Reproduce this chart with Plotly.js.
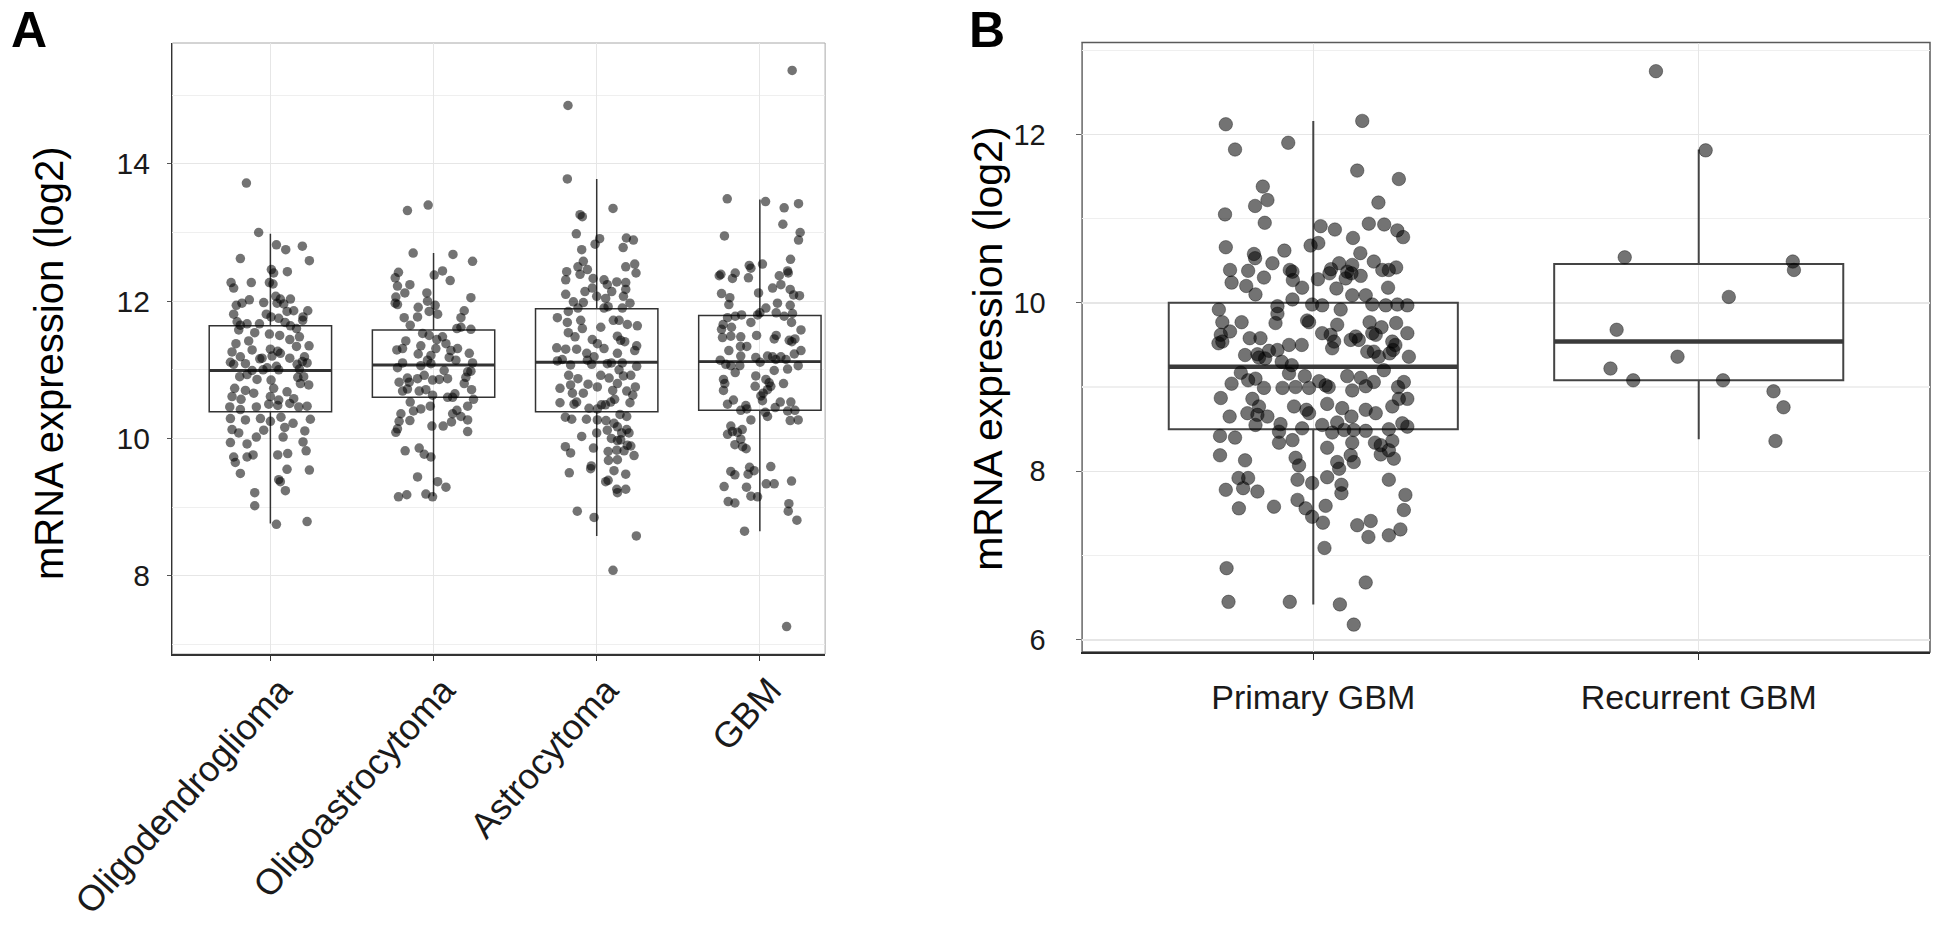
<!DOCTYPE html>
<html>
<head>
<meta charset="utf-8">
<script src="https://cdn.plot.ly/plotly-3.0.1.min.js"></script>
<style>html,body{margin:0;padding:0;background:#fff;}#chart{width:1936px;height:935px;}</style>
</head>
<body>
<div id="chart"></div>
<script>
// ---------- Panel A data ----------
const categoriesA = ['Oligodendroglioma', 'Oligoastrocytoma', 'Astrocytoma', 'GBM'];
const q1A = [10.39, 10.60, 10.39, 10.41];
const medianA = [10.99, 11.07, 11.11, 11.12];
const q3A = [11.64, 11.58, 11.89, 11.79];
const lowerA = [8.76, 9.16, 8.58, 8.65];
const upperA = [12.98, 12.70, 13.78, 13.48];

// each point: [expression value, horizontal jitter offset]
const oligodendrogliomaPts = [[13.72,-0.147],[13.00,-0.072],[12.82,0.037],[12.75,0.094],[12.80,0.196],[12.62,-0.184],[12.59,0.239],[12.46,0.006],[12.41,0.020],[12.43,0.104],[12.27,-0.241],[12.19,-0.225],[12.27,-0.117],[12.27,-0.006],[12.25,0.016],[12.07,0.033],[12.03,0.061],[12.03,0.123],[12.02,-0.129],[11.98,-0.041],[11.97,-0.174],[11.94,-0.209],[11.97,0.041],[11.96,0.082],[11.85,0.102],[11.86,0.143],[11.86,0.229],[11.81,-0.225],[11.81,-0.025],[11.77,0.004],[11.75,0.051],[11.77,0.200],[11.72,0.198],[11.70,-0.204],[11.65,-0.184],[11.67,-0.143],[11.67,-0.067],[11.69,0.090],[11.64,0.123],[11.60,0.160],[11.58,-0.194],[11.54,-0.096],[11.52,-0.006],[11.50,0.057],[11.44,0.119],[11.48,0.178],[11.38,-0.211],[11.42,-0.133],[11.35,0.237],[11.29,-0.112],[11.30,0.000],[11.27,0.045],[11.34,0.160],[11.26,-0.235],[11.19,-0.184],[11.17,-0.051],[11.20,0.010],[11.24,0.061],[11.17,0.119],[11.19,0.209],[11.11,-0.245],[11.08,-0.225],[11.09,-0.153],[11.16,-0.065],[11.03,-0.020],[11.05,0.037],[11.08,0.164],[11.12,0.196],[11.10,0.225],[11.01,0.178],[10.99,-0.112],[11.00,-0.045],[11.00,0.051],[10.90,-0.188],[10.93,-0.143],[10.86,-0.082],[10.85,0.004],[10.89,0.168],[10.90,0.204],[10.73,-0.219],[10.70,-0.153],[10.66,-0.102],[10.73,0.020],[10.68,0.102],[10.80,0.184],[10.78,0.235],[10.61,-0.235],[10.57,-0.180],[10.61,0.000],[10.56,0.051],[10.58,0.143],[10.46,-0.249],[10.42,-0.184],[10.46,-0.086],[10.50,-0.010],[10.48,0.045],[10.51,0.119],[10.46,0.174],[10.47,0.225],[10.29,-0.245],[10.27,-0.153],[10.29,-0.061],[10.25,0.000],[10.31,0.065],[10.28,0.245],[10.13,-0.235],[10.08,-0.194],[10.12,-0.041],[10.16,0.088],[10.22,0.139],[10.11,0.211],[9.94,-0.245],[9.92,-0.143],[10.02,-0.086],[10.02,0.078],[9.95,0.200],[9.73,-0.225],[9.73,-0.143],[9.76,-0.106],[9.76,0.045],[9.78,0.106],[9.82,0.219],[9.65,-0.215],[9.55,0.102],[9.54,0.239],[9.49,-0.184],[9.40,0.051],[9.37,0.061],[9.24,0.092],[9.21,-0.096],[9.02,-0.096],[8.75,0.037],[8.79,0.225]];

const oligoastrocytomaPts = [[13.32,-0.160],[13.40,-0.033],[12.70,-0.125],[12.68,0.119],[12.58,0.239],[12.42,-0.215],[12.34,-0.235],[12.38,0.004],[12.44,0.055],[12.30,0.102],[12.22,-0.221],[12.24,-0.145],[12.12,-0.176],[12.12,-0.041],[12.06,-0.231],[12.05,0.229],[11.97,-0.235],[11.95,-0.221],[11.91,-0.094],[12.00,-0.037],[11.94,0.010],[11.77,-0.098],[11.85,-0.027],[11.81,0.025],[11.76,-0.180],[11.86,0.188],[11.76,0.168],[11.65,-0.143],[11.60,0.143],[11.62,0.168],[11.59,0.229],[11.53,-0.067],[11.50,-0.027],[11.44,0.020],[11.48,0.055],[11.38,0.076],[11.42,-0.170],[11.29,-0.225],[11.31,-0.190],[11.35,-0.078],[11.31,0.014],[11.31,0.147],[11.28,0.106],[11.24,0.219],[11.23,-0.094],[11.21,-0.016],[11.14,-0.037],[11.18,0.096],[11.14,0.137],[11.10,-0.190],[11.03,-0.221],[11.06,-0.078],[11.09,-0.016],[10.99,0.065],[11.10,0.239],[10.98,0.229],[10.88,-0.160],[10.97,0.209],[10.89,0.198],[10.87,-0.098],[10.92,-0.057],[10.86,0.035],[10.87,0.086],[10.85,-0.006],[10.82,-0.211],[10.82,-0.149],[10.72,-0.160],[10.69,-0.190],[10.69,-0.088],[10.71,-0.047],[10.80,0.188],[10.71,0.233],[10.63,-0.006],[10.60,0.086],[10.60,0.117],[10.65,0.131],[10.57,0.245],[10.53,-0.143],[10.47,0.209],[10.43,-0.078],[10.47,-0.020],[10.40,-0.123],[10.41,0.143],[10.36,-0.200],[10.36,0.117],[10.32,0.168],[10.27,0.209],[10.25,-0.211],[10.26,-0.145],[10.14,-0.221],[10.09,-0.231],[10.18,-0.010],[10.18,0.059],[10.10,0.209],[10.24,0.110],[9.82,-0.174],[9.86,-0.088],[9.77,-0.057],[9.73,-0.016],[9.44,-0.098],[9.37,0.025],[9.29,0.076],[9.15,-0.215],[9.18,-0.164],[9.19,-0.047],[9.15,-0.006]];

const astrocytomaPts = [[14.85,-0.176],[13.78,-0.180],[13.35,0.100],[13.26,-0.102],[13.23,-0.088],[12.98,-0.125],[12.91,0.018],[12.83,-0.010],[12.92,0.182],[12.89,0.225],[12.78,0.162],[12.75,-0.092],[12.58,-0.082],[12.50,-0.115],[12.46,-0.057],[12.39,-0.102],[12.43,-0.184],[12.31,-0.190],[12.50,0.178],[12.54,0.233],[12.41,0.241],[12.33,-0.022],[12.14,-0.072],[12.31,0.045],[12.10,-0.190],[12.24,0.065],[12.28,0.123],[12.27,0.178],[12.14,0.092],[12.17,0.178],[12.19,-0.027],[12.07,0.000],[12.04,0.055],[11.99,-0.143],[11.90,-0.115],[11.98,-0.082],[11.92,0.070],[12.07,0.164],[11.97,0.204],[11.90,0.045],[11.90,0.157],[11.85,-0.174],[11.76,-0.241],[11.69,-0.180],[11.72,-0.098],[11.60,-0.088],[11.72,0.102],[11.72,0.137],[11.66,0.188],[11.64,0.249],[11.62,0.025],[11.54,-0.174],[11.48,-0.133],[11.49,0.127],[11.44,-0.027],[11.38,0.004],[11.41,0.172],[11.43,0.147],[11.32,-0.245],[11.30,-0.190],[11.30,-0.123],[11.24,-0.061],[11.31,0.045],[11.24,0.127],[11.35,0.245],[11.28,0.233],[11.14,-0.057],[11.19,-0.016],[11.15,-0.211],[11.07,-0.160],[11.08,-0.031],[11.09,0.065],[11.10,0.090],[11.10,0.157],[11.05,0.245],[11.13,-0.241],[10.92,-0.172],[10.87,-0.115],[10.92,0.025],[10.88,0.076],[11.00,0.137],[10.91,0.164],[10.92,0.209],[10.79,-0.053],[10.75,0.004],[10.80,0.127],[10.73,-0.225],[10.78,-0.160],[10.69,0.184],[10.70,0.098],[10.75,0.237],[10.66,-0.149],[10.66,-0.082],[10.63,0.221],[10.53,-0.123],[10.50,-0.139],[10.53,0.086],[10.57,0.110],[10.52,0.204],[10.52,-0.225],[10.49,0.029],[10.49,0.053],[10.44,-0.047],[10.43,0.004],[10.35,0.143],[10.32,0.184],[10.31,-0.192],[10.28,-0.153],[10.28,-0.063],[10.27,0.004],[10.26,0.057],[10.22,0.106],[10.13,0.184],[10.08,0.198],[10.08,0.153],[10.17,0.127],[10.03,-0.092],[10.08,0.000],[10.12,0.065],[10.00,0.090],[9.97,0.127],[9.90,0.188],[9.98,0.147],[9.88,-0.192],[9.79,-0.160],[9.86,-0.020],[9.81,0.070],[9.83,0.123],[9.75,0.229],[9.82,0.168],[9.89,0.209],[9.68,0.072],[9.69,0.127],[9.60,-0.033],[9.56,-0.037],[9.50,-0.168],[9.53,0.106],[9.48,0.178],[9.37,0.055],[9.39,0.070],[9.26,0.123],[9.26,0.178],[9.21,0.127],[8.94,-0.119],[8.85,-0.016],[8.58,0.243],[8.08,0.100]];

const gbmPts = [[15.36,0.198],[13.49,-0.200],[13.45,0.035],[13.36,0.149],[13.42,0.237],[13.12,0.141],[12.95,-0.217],[13.00,0.247],[12.89,0.237],[12.61,0.188],[12.52,-0.065],[12.48,-0.055],[12.54,0.016],[12.37,-0.249],[12.39,-0.239],[12.41,-0.151],[12.33,-0.168],[12.34,-0.070],[12.44,0.170],[12.37,0.119],[12.41,0.174],[12.11,-0.235],[12.12,-0.008],[12.19,0.078],[12.24,0.129],[12.17,0.186],[12.08,0.243],[12.09,0.207],[12.05,-0.184],[11.95,-0.190],[11.97,0.108],[11.94,0.186],[11.90,0.037],[11.80,-0.112],[11.78,-0.151],[11.80,-0.014],[11.83,0.000],[11.83,0.100],[11.78,0.149],[11.82,0.200],[11.76,-0.198],[11.69,0.194],[11.69,-0.055],[11.66,-0.225],[11.62,-0.174],[11.59,-0.235],[11.47,-0.229],[11.49,-0.178],[11.48,-0.117],[11.50,-0.020],[11.50,0.100],[11.58,0.252],[11.45,0.088],[11.43,0.180],[11.45,0.215],[11.41,0.196],[11.34,-0.119],[11.34,-0.080],[11.28,-0.190],[11.20,-0.117],[11.18,-0.025],[11.20,0.047],[11.19,0.078],[11.15,0.098],[11.19,0.129],[11.15,0.160],[11.23,0.211],[11.28,0.252],[11.14,-0.243],[11.08,-0.209],[11.06,-0.178],[11.06,-0.123],[11.11,0.002],[10.96,-0.151],[10.99,0.088],[11.01,0.170],[11.06,0.235],[10.86,-0.223],[10.80,-0.215],[10.91,-0.025],[10.86,0.037],[10.81,0.057],[10.80,0.145],[10.70,-0.223],[10.76,-0.029],[10.66,0.020],[10.71,0.047],[10.76,0.067],[10.62,0.006],[10.55,0.016],[10.50,-0.198],[10.56,-0.162],[10.48,-0.086],[10.43,-0.080],[10.41,-0.117],[10.27,-0.055],[10.38,0.033],[10.32,0.047],[10.45,0.094],[10.53,0.125],[10.53,0.190],[10.40,0.170],[10.41,0.215],[10.26,0.186],[10.27,0.235],[10.18,-0.178],[10.10,-0.168],[10.09,-0.137],[10.13,-0.108],[10.06,-0.198],[9.91,-0.153],[9.99,-0.117],[9.88,-0.106],[9.85,-0.084],[9.52,-0.178],[9.47,-0.153],[9.58,-0.063],[9.53,-0.035],[9.48,-0.072],[9.30,-0.219],[9.29,-0.082],[9.34,0.039],[9.34,0.088],[9.59,0.067],[9.38,0.194],[9.08,-0.194],[9.06,-0.153],[9.16,-0.055],[9.15,-0.014],[9.05,0.178],[8.94,0.174],[8.81,0.227],[8.65,-0.094],[7.26,0.164]];

// ---------- Panel B data ----------
const categoriesB = ['Primary GBM', 'Recurrent GBM'];
const q1B = [8.50, 9.08];
const medianB = [9.24, 9.54];
const q3B = [10.00, 10.46];
const lowerB = [6.42, 8.38];
const upperB = [12.16, 11.82];

const primaryGbmPts = [[12.12,-0.227],[12.16,0.127],[11.82,-0.203],[11.90,-0.065],[11.57,0.114],[11.47,0.222],[11.38,-0.131],[11.22,-0.119],[11.15,-0.151],[11.19,0.169],[11.05,-0.229],[10.95,-0.126],[10.91,0.019],[10.87,0.056],[10.94,0.144],[10.93,0.184],[10.86,0.218],[10.78,0.233],[10.77,0.103],[10.66,-0.227],[10.68,-0.007],[10.71,0.013],[10.62,-0.075],[10.58,-0.154],[10.53,-0.151],[10.59,0.122],[10.49,0.157],[10.47,0.067],[10.45,0.101],[10.47,-0.106],[10.39,-0.216],[10.38,-0.169],[10.39,-0.061],[10.37,-0.054],[10.40,0.046],[10.35,0.042],[10.37,0.088],[10.35,0.099],[10.39,0.179],[10.42,0.215],[10.39,0.196],[10.24,-0.212],[10.30,-0.128],[10.20,-0.174],[10.27,-0.053],[10.28,0.012],[10.29,0.084],[10.32,0.123],[10.18,-0.029],[10.17,0.060],[10.18,0.194],
[10.10,-0.150],[10.04,-0.054],[10.09,0.101],[10.09,0.136],[9.96,-0.093],[9.98,-0.003],[9.97,0.023],[9.92,0.071],[9.98,0.153],[9.97,0.188],[9.98,0.218],[9.97,0.244],[9.92,-0.245],[9.87,-0.093],[9.76,-0.098],[9.77,-0.236],[9.77,-0.186],[9.79,-0.016],[9.77,-0.011],[9.74,0.062],[9.77,0.146],[9.71,0.177],[9.76,0.215],[9.66,-0.216],[9.62,-0.240],[9.54,-0.236],[9.52,-0.246],[9.58,-0.165],[9.58,-0.137],[9.64,0.023],[9.62,0.045],[9.54,0.054],[9.60,0.110],[9.56,0.118],[9.56,0.097],[9.64,0.153],[9.62,0.162],[9.64,0.244],[9.54,0.205],[9.50,0.213],[9.50,-0.063],[9.50,-0.030],[9.44,-0.093],[9.43,-0.115],[9.38,-0.177],[9.39,-0.145],[9.35,-0.141],[9.34,-0.125],[9.46,0.049],[9.42,0.140],[9.42,0.157],[9.36,0.170],[9.40,0.198],[9.44,0.207],[9.36,0.248],[9.30,-0.082],[9.26,-0.056],[9.20,0.183],[9.17,-0.188],[9.08,-0.169],[9.04,-0.212],[9.10,-0.150],[8.99,-0.128],[9.16,-0.063],[9.13,-0.022],[9.07,0.015],[9.02,0.032],[9.00,0.040],[9.13,0.088],[9.11,0.123],[9.06,0.157],[9.01,0.136],[8.96,0.101],[8.99,-0.080],[9.00,-0.046],[8.99,-0.011],[9.06,0.235],[9.00,0.220],[8.87,-0.240],[8.86,-0.158],[8.86,0.222],[8.86,0.244],
[8.77,-0.141],[8.77,-0.050],[8.73,-0.018],[8.69,-0.011],[8.80,0.036],[8.75,0.075],[8.65,0.099],[8.73,0.136],[8.69,0.162],[8.77,0.205],[8.65,-0.217],[8.69,-0.171],[8.67,-0.145],[8.65,-0.119],[8.55,-0.150],[8.56,-0.085],[8.47,-0.089],[8.51,-0.029],[8.55,0.023],[8.58,0.062],[8.46,0.049],[8.49,0.080],[8.49,0.105],[8.48,0.136],[8.50,0.196],[8.57,0.231],[8.53,0.244],[8.42,-0.242],[8.40,-0.203],[8.34,-0.089],[8.37,-0.054],[8.28,0.036],[8.34,0.101],[8.34,0.160],[8.31,0.175],[8.25,0.196],[8.36,0.205],[8.19,-0.242],[8.13,-0.177],[8.16,-0.046],[8.07,-0.037],[8.11,0.062],[8.03,0.067],[8.19,0.097],[8.11,0.105],[8.20,0.175],[8.15,0.209],[7.92,-0.194],[7.92,-0.169],[7.90,-0.041],[7.86,-0.003],[7.93,0.036],[7.84,0.073],[7.90,0.196],[7.78,-0.227],[7.80,-0.182],[7.76,-0.145],[7.74,0.073],[7.72,0.239],[7.66,-0.041],[7.59,0.032],[7.58,-0.102],[7.56,-0.193],[7.56,-0.020],
[7.46,-0.003],[7.39,0.025],[7.36,0.114],[7.41,0.149],[7.22,0.143],[7.24,0.196],[7.31,0.226],[7.54,0.235],[7.09,0.029],[6.85,-0.225],[6.68,0.136],[6.45,-0.220],[6.45,-0.061],[6.42,0.069],[6.18,0.105]];

const recurrentGbmPts = [[12.75,-0.111],[11.81,0.018],[10.54,-0.192],[10.49,0.244],[10.39,0.247],[10.07,0.078],[9.68,-0.213],[9.36,-0.055],[9.22,-0.229],[9.08,-0.170],[9.08,0.063],[8.95,0.194],[8.76,0.220],[8.36,0.199]];

// ---------- build ----------
const FONT = 'Liberation Sans, Arial, Helvetica, sans-serif';
const BOXW = 0.75;

function medianSegments(meds) {
  const x = [], y = [];
  meds.forEach((m, i) => { x.push(i - BOXW / 2, i + BOXW / 2, null); y.push(m, m, null); });
  return {x, y};
}
function jitterTrace(groups, xa, ya, size, lineColor) {
  const x = [], y = [];
  groups.forEach((pts, i) => pts.forEach(p => { x.push(i + p[1]); y.push(p[0]); }));
  return {type: 'scatter', mode: 'markers', x, y, xaxis: xa, yaxis: ya, hoverinfo: 'skip', showlegend: false,
    marker: {size: size, color: 'rgba(0,0,0,0.55)', line: {width: lineColor ? 1 : 0, color: lineColor || 'rgba(0,0,0,0)'}}};
}

const idxA = categoriesA.map((c, i) => i);
const idxB = categoriesB.map((c, i) => i);
const medA = medianSegments(medianA);
const medB = medianSegments(medianB);

const traces = [
  {type: 'box', x: idxA, q1: q1A, median: medianA, q3: q3A, lowerfence: lowerA, upperfence: upperA,
   width: BOXW, whiskerwidth: 0, boxpoints: false, fillcolor: 'rgba(255,255,255,0)',
   line: {color: '#333333', width: 1.5}, xaxis: 'x', yaxis: 'y', hoverinfo: 'skip', showlegend: false},
  {type: 'scatter', mode: 'lines', x: medA.x, y: medA.y, xaxis: 'x', yaxis: 'y', line: {color: '#333333', width: 2.8},
   hoverinfo: 'skip', showlegend: false},
  jitterTrace([oligodendrogliomaPts, oligoastrocytomaPts, astrocytomaPts, gbmPts], 'x', 'y', 9.5, null),

  {type: 'box', x: idxB, q1: q1B, median: medianB, q3: q3B, lowerfence: lowerB, upperfence: upperB,
   width: BOXW, whiskerwidth: 0, boxpoints: false, fillcolor: 'rgba(255,255,255,0)',
   line: {color: '#444444', width: 2}, xaxis: 'x2', yaxis: 'y2', hoverinfo: 'skip', showlegend: false},
  {type: 'scatter', mode: 'lines', x: medB.x, y: medB.y, xaxis: 'x2', yaxis: 'y2', line: {color: '#3a3a3a', width: 4.5},
   hoverinfo: 'skip', showlegend: false},
  jitterTrace([primaryGbmPts, recurrentGbmPts], 'x2', 'y2', 13.5, 'rgba(0,0,0,0.35)')
];

const gridMajor = '#e6e6e6';
const gridMinor = '#efefef';

const layout = {
  width: 1936, height: 935,
  margin: {l: 0, r: 0, t: 0, b: 0},
  paper_bgcolor: '#ffffff', plot_bgcolor: '#ffffff',
  font: {family: FONT, color: '#111111'},
  showlegend: false,
  xaxis: {
    domain: [0.0891, 0.4262], range: [-0.6, 3.4], anchor: 'y',
    tickmode: 'array', tickvals: idxA, ticktext: categoriesA, tickangle: -48,
    tickfont: {size: 36, color: '#1a1a1a', family: FONT},
    ticks: 'outside', ticklen: 5, tickcolor: '#333333', tickwidth: 1.2,
    ticklabelstandoff: -6, ticklabelshift: 10,
    showgrid: true, gridcolor: gridMajor, gridwidth: 1, zeroline: false,
    showline: true, linecolor: '#333333', linewidth: 1.5, fixedrange: true
  },
  yaxis: {
    domain: [0.3005, 0.954], range: [6.86, 15.76], anchor: 'x',
    tickmode: 'linear', tick0: 0, dtick: 2,
    tickfont: {size: 30, color: '#1a1a1a', family: FONT},
    ticks: 'outside', ticklen: 4, tickcolor: '#555555', tickwidth: 1, ticklabelstandoff: 11,
    showgrid: true, gridcolor: gridMajor, gridwidth: 1, zeroline: false,
    minor: {tick0: 0, dtick: 1, showgrid: true, gridcolor: gridMinor, gridwidth: 1, ticks: ''},
    showline: true, linecolor: '#333333', linewidth: 1.5, fixedrange: true
  },
  xaxis2: {
    domain: [0.5589, 0.9969], range: [-0.6, 1.6], anchor: 'y2',
    tickmode: 'array', tickvals: idxB, ticktext: categoriesB,
    tickfont: {size: 34, color: '#1a1a1a', family: FONT},
    ticks: 'outside', ticklen: 6, tickcolor: '#333333', tickwidth: 1.2, ticklabelstandoff: 8,
    showgrid: true, gridcolor: gridMajor, gridwidth: 1.2, zeroline: false,
    showline: true, linecolor: '#2a2a2a', linewidth: 2, fixedrange: true
  },
  yaxis2: {
    domain: [0.3027, 0.9545], range: [5.855, 13.09], anchor: 'x2',
    tickmode: 'linear', tick0: 0, dtick: 2,
    tickfont: {size: 29, color: '#1a1a1a', family: FONT},
    ticks: 'outside', ticklen: 5, tickcolor: '#666666', tickwidth: 1.2, ticklabelstandoff: 24,
    showgrid: true, gridcolor: gridMajor, gridwidth: 1.5, zeroline: false,
    minor: {tick0: 0, dtick: 1, showgrid: true, gridcolor: gridMinor, gridwidth: 1.2, ticks: ''},
    showline: true, linecolor: '#9a9a9a', linewidth: 1.5, fixedrange: true
  },
  shapes: [
    {type: 'rect', xref: 'x domain', yref: 'y domain', x0: 0, x1: 1, y0: 0, y1: 1,
     line: {color: '#a8a8a8', width: 1}, fillcolor: 'rgba(0,0,0,0)', layer: 'below'},
    {type: 'rect', xref: 'x2 domain', yref: 'y2 domain', x0: 0, x1: 1, y0: 0, y1: 1,
     line: {color: '#5a5a5a', width: 1.5}, fillcolor: 'rgba(0,0,0,0)', layer: 'below'}
  ],
  annotations: [
    {text: '<b>A</b>', xref: 'paper', yref: 'paper', x: 0.0045, y: 1.0, xanchor: 'left', yanchor: 'top',
     showarrow: false, font: {size: 50, family: FONT, color: '#000000'}},
    {text: '<b>B</b>', xref: 'paper', yref: 'paper', x: 0.4995, y: 1.0, xanchor: 'left', yanchor: 'top',
     showarrow: false, font: {size: 50, family: FONT, color: '#000000'}},
    {text: 'mRNA expression (log2)', xref: 'paper', yref: 'paper', x: 0.0253, y: 0.6118,
     xanchor: 'center', yanchor: 'middle', textangle: -90, showarrow: false,
     font: {size: 40, family: FONT, color: '#000000'}},
    {text: 'mRNA expression (log2)', xref: 'paper', yref: 'paper', x: 0.5102, y: 0.6267,
     xanchor: 'center', yanchor: 'middle', textangle: -90, showarrow: false,
     font: {size: 41, family: FONT, color: '#000000'}}
  ]
};

Plotly.newPlot('chart', traces, layout, {staticPlot: true, displayModeBar: false});
</script>
</body>
</html>
